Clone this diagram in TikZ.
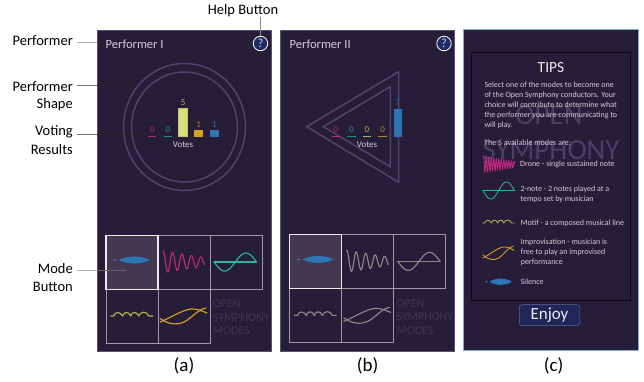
\documentclass[tikz,border=0pt]{standalone}
\usepackage{fontspec}
\setmainfont{Carlito}
\definecolor{panelbg}{HTML}{261D38}
\definecolor{panelln}{HTML}{5C5274}
\definecolor{ringc}{HTML}{4F4470}
\definecolor{softtx}{HTML}{D2CED8}
\definecolor{markc}{HTML}{40365A}
\definecolor{bigmarkc}{HTML}{4A3F68}
\definecolor{gridc}{HTML}{9D99A6}
\definecolor{selc}{HTML}{443850}
\definecolor{bluec}{HTML}{2E75B6}
\definecolor{magc}{HTML}{C0287F}
\definecolor{tealc}{HTML}{2FB39A}
\definecolor{limec}{HTML}{A9B84F}
\definecolor{orgc}{HTML}{D9A01E}
\definecolor{barl}{HTML}{D6E07A}
\definecolor{mutec}{HTML}{8C8884}
\definecolor{helpc}{HTML}{1F2A66}
\tikzset{
  x=1pt,y=-1pt,
  panel/.style={fill=panelbg,draw=panelln,line width=.8pt},
  ring/.style={draw=ringc,line width=1.5pt},
  lab/.style={font=\fontsize{14.5}{14.5}\selectfont,text=black,inner sep=0pt,anchor=east},
  sub/.style={font=\fontsize{19}{19}\selectfont,text=black,inner sep=0pt},
  ptitle/.style={font=\fontsize{12.5}{12.5}\selectfont,text=softtx,inner sep=0pt,anchor=west},
  votes/.style={font=\fontsize{9}{9}\selectfont,inner sep=0pt},
  tip/.style={font=\fontsize{8}{8}\selectfont,text=softtx,inner sep=0pt,anchor=west},
  wmark/.style={font=\fontsize{12}{12}\selectfont,text=markc,inner sep=0pt,anchor=west},
  bigmark/.style={font=\fontsize{29}{29}\selectfont,text=bigmarkc,inner sep=0pt},
  helpb/.style={circle,fill=helpc,draw=white,line width=.8pt,minimum size=14.5pt,inner sep=0pt,text=softtx,font=\fontsize{12.5}{12.5}\selectfont},
  outer/.style={draw=black!30,line width=.7pt},
  inner/.style={draw=black!85,line width=.5pt},
  wave/.style={line width=1.15pt,line join=round,line cap=round},
}
\newcommand\silenceicon[4]{\begin{scope}[shift={#1},xscale=#2,yscale=#3]
  \fill[#4] (0,0) -- (1.5,-1.2) -- (3,0) -- (1.5,1.2) -- cycle;
  \fill[#4] (5.5,0) .. controls (14,-4.6) and (28,-4.6) .. (36.5,0) .. controls (28,4.6) and (14,4.6) .. (5.5,0) -- cycle;
\end{scope}}
\newcommand\droneicon[5]{\begin{scope}[shift={#1},xscale=#2,yscale=#3]
  \draw[#4,wave,smooth,samples=130,domain=0:42] plot (\x,{-(11-0.16*\x)*sin(#5*\x+75)});
\end{scope}}
\newcommand\twoicon[4]{\begin{scope}[shift={#1},xscale=#2,yscale=#3]
  \draw[#4,wave] (0,0) -- (42.5,0);
  \draw[#4,wave,smooth,samples=60,domain=0:42.5] plot (\x,{9*sin(8.47*\x)});
\end{scope}}
\newcommand\motificon[4]{\begin{scope}[shift={#1},xscale=#2,yscale=#3]
  \draw[#4,wave] (0,0) -- (3,0) .. controls (4,-4) and (9,-5) .. (12,0)
    .. controls (13,-4.5) and (18,-5) .. (20,0) .. controls (21,-4.5) and (26,-5) .. (28,0)
    .. controls (30,-5) and (36,-5) .. (38,0) -- (42,0);
\end{scope}}
\newcommand\improicon[4]{\begin{scope}[shift={#1},xscale=#2,yscale=#3]
  \draw[#4,wave] (0,0) .. controls (10,-4) and (22,-12) .. (31,-13) .. controls (37,-13.5) and (42,-11) .. (47,-9);
  \draw[#4,wave] (0,-3.5) .. controls (8,2) and (16,3.5) .. (24,0) .. controls (32,-4) and (38,-13) .. (46,-14);
\end{scope}}
\newcommand\modegrid[6]{\begin{scope}[shift={(#1,#2)}]
  \fill[selc] (0,0) rectangle (52,54);
  \draw[gridc,line width=.7pt] (52,0) -- (156,0) -- (156,54) -- (0,54) -- (0,108) -- (104,108) -- (104,0);
  \draw[gridc,line width=.7pt] (52,0) -- (52,108);
  \draw[white!92!black,line width=1.3pt] (0,0) rectangle (52,54);
  \silenceicon{(7.5,24.7)}{1}{1}{bluec}
  \droneicon{(56.7,26.5)}{1}{1}{#3}{38}
  \twoicon{(108,26.7)}{1}{1}{#4}
  \motificon{(4.7,80.7)}{1}{1}{#5}
  \improicon{(54,86.7)}{1}{1}{#6}
  \node[wmark] at (106.7,68.7) {OPEN};
  \node[wmark] at (106.7,82.2) {SYMPHONY};
  \node[wmark] at (106.7,95.7) {MODES};
\end{scope}}
\begin{document}
\begin{tikzpicture}
\useasboundingbox (0,0) rectangle (644,382);
\fill[white] (0,0) rectangle (644,382);
\filldraw[panel] (97,30.5) rectangle (271,351);
\filldraw[panel] (280,30.5) rectangle (454,351);
\filldraw[panel,draw=bluec!60!white] (463,29.5) rectangle (638,350);
% panel a
\node[ptitle] (ta) at (105.5,44.5) {Performer I};
\node[helpb] (ha) at (260.5,43.5) {?};
\draw[ring] (184.5,127) ellipse [x radius=61,y radius=63.5];
\draw[ring] (184.5,127) ellipse [x radius=53,y radius=55];
\coordinate (shapeA) at (136,85);
\draw[magc,line width=.7pt] (148,136.3) -- (156,136.3);
\draw[tealc!80!black,line width=.7pt] (163.5,136.3) -- (172,136.3);
\fill[barl,draw=limec!80!white,line width=.5pt] (178.7,108.7) rectangle (187.7,136.7);
\fill[orgc] (194.3,130.3) rectangle (203,136.7);
\fill[bluec] (210,130.3) rectangle (218.8,136.7);
\node[votes,text=magc] (va) at (152.3,130) {0};
\node[votes,text=tealc!80!black] at (167.8,130) {0};
\node[votes,text=limec] at (183.2,103) {5};
\node[votes,text=orgc!85!black] at (198.7,125) {1};
\node[votes,text=bluec] at (214.4,125) {1};
\node[votes,text=softtx] at (183,144.5) {Votes};
\modegrid{106}{235.3}{magc}{tealc}{limec}{orgc}
\coordinate (modeA) at (126,270.7);
\coordinate (voteA) at (146,134.5);
% panel b
\node[ptitle] (tb) at (289.5,44.5) {Performer II};
\node[helpb] (hb) at (444,43.5) {?};
\draw[ring] (306.7,126.7) -- (398.7,71.7) -- (398.7,182.3) -- cycle;
\draw[ring] (323.3,126.7) -- (390.3,86.7) -- (390.3,166.7) -- cycle;
\draw[magc,line width=.7pt] (332,136.3) -- (340,136.3);
\draw[tealc!80!black,line width=.7pt] (347,136.3) -- (355.5,136.3);
\draw[limec,line width=.7pt] (362.5,136.3) -- (371,136.3);
\draw[orgc!85!black,line width=.7pt] (378,136.3) -- (386.5,136.3);
\fill[bluec] (393.7,108.7) rectangle (402,136.7);
\node[votes,text=magc] at (336,130) {0};
\node[votes,text=tealc!80!black] at (351.3,130) {0};
\node[votes,text=limec] at (367,130) {0};
\node[votes,text=orgc!85!black] at (382.6,130) {0};
\node[votes,text=bluec!80!black] at (397.7,103) {7};
\node[votes,text=softtx] at (367,144.5) {Votes};
\modegrid{289.7}{234.7}{mutec}{mutec}{mutec}{mutec}
% panel c
\draw[black!75!panelbg,line width=.6pt] (471.7,52.3) rectangle (630.7,300.3);
\node[bigmark] at (549,115) {OPEN};
\node[bigmark] at (551,150) {SYMPHONY};
\node[font=\fontsize{15.5}{15.5}\selectfont,text=white!92!black,inner sep=0pt] at (551,68) {TIPS};
\node[tip] at (484.3,85) {Select one of the modes to become one};
\node[tip] at (484.3,95) {of the Open Symphony conductors. Your};
\node[tip] at (484.3,105) {choice will contribute to determine what};
\node[tip] at (484.3,115) {the performer you are communicating to};
\node[tip] at (484.3,125) {will play.};
\node[tip] at (484,142.7) {The 5 available modes are:};
\node[tip] at (520,164.5) {Drone - single sustained note};
\node[tip] at (520.3,189.3) {2-note - 2 notes played at a};
\node[tip] at (520.3,199.3) {tempo set by musician};
\node[tip] at (520.6,223) {Motif - a composed musical line};
\node[tip] at (520.6,242.8) {Improvisation - musician is};
\node[tip] at (520.6,252.6) {free to play an improvised};
\node[tip] at (520.6,262.5) {performance};
\node[tip] at (520.6,281.5) {Silence};
\begin{scope}[wave/.append style={line width=.85pt}]
\droneicon{(483.5,164.5)}{.74}{.75}{magc}{105}
\twoicon{(483,190.5)}{.74}{.95}{tealc}
\motificon{(482.5,223)}{.76}{.8}{limec}
\improicon{(483,258)}{.66}{.85}{orgc}
\end{scope}
\silenceicon{(485.5,281.7)}{.72}{.9}{bluec}
\node[fill=helpc!70!panelbg,draw=helpc!70!white,rounded corners=3pt,line width=.5pt,minimum width=60.5pt,minimum height=21pt,inner sep=0pt,text=white!92!black,font=\fontsize{17}{17}\selectfont] (enjoy) at (549.5,315.2) {Enjoy};
% outer labels
\node[font=\fontsize{14.5}{14.5}\selectfont,inner sep=0pt] (help) at (243,11) {Help Button};
\node[lab] (perf) at (73,41) {Performer};
\node[lab] (shapeone) at (73,87) {Performer};
\node[lab] at (73,105) {Shape};
\node[lab] (vote) at (73,132) {Voting};
\node[lab] at (73,150) {Results};
\node[lab] (mode) at (73,269) {Mode};
\node[lab] at (73,287) {Button};
\node[sub] at (184,366) {(a)};
\node[sub] at (367.7,366) {(b)};
\node[sub] at (553.7,366) {(c)};
% connectors
\coordinate (e1) at (97,42);
\coordinate (e2) at (97,85);
\coordinate (e3) at (97,134.5);
\coordinate (e4) at (97,270.7);
\draw[outer] (perf.east |- e1) ++(4,0) -- (e1);
\draw[outer,draw=black!55] (shapeone.east |- e2) ++(4,0) -- (e2);
\draw[inner] (e2) -- (shapeA);
\draw[outer,draw=black!55] (vote.east |- e3) ++(4,0) -- (e3);
\draw[inner] (e3) -- (voteA);
\draw[outer] (mode.east |- e4) ++(4,0) -- (e4);
\draw[inner,draw=black!60] (e4) -- (modeA);
\draw[outer,draw=black!45] (help.south -| ha) -- (ha.north);
\end{tikzpicture}
\end{document}
